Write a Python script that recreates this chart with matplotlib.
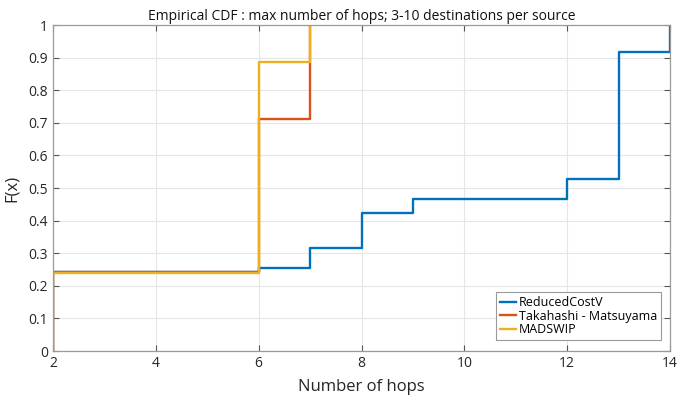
import matplotlib
matplotlib.use("Agg")
import matplotlib.pyplot as plt
import numpy as np

# Step points of each empirical CDF (hops, F(x))
reduced_x = [2, 6, 7, 8, 9, 12, 13, 14]
reduced_f = [0, 0.243, 0.254, 0.315, 0.425, 0.466, 0.528, 0.917, 1.0]

takahashi_x = [2, 6, 7]
takahashi_f = [0, 0.243, 0.712, 1.0]

madswip_x = [2, 6, 7]
madswip_f = [0, 0.239, 0.887, 1.0]

series_names = ["ReducedCostV", "Takahashi - Matsuyama", "MADSWIP"]
series_colors = ["#0072BD", "#D95319", "#EDB120"]

x_ticks = [2, 4, 6, 8, 10, 12, 14]
y_ticks = [0, 0.1, 0.2, 0.3, 0.4, 0.5, 0.6, 0.7, 0.8, 0.9, 1]
y_tick_labels = ["0", "0.1", "0.2", "0.3", "0.4", "0.5", "0.6", "0.7", "0.8", "0.9", "1"]

plt.rcParams["font.family"] = ["Open Sans", "DejaVu Sans"]


def stairs(xs, fs):
    """Build stair coordinates: vertical jump at each x, flat run to the next x."""
    sx, sy = [xs[0]], [fs[0]]
    for i, x in enumerate(xs):
        sx += [x, xs[i + 1] if i + 1 < len(xs) else x]
        sy += [fs[i + 1], fs[i + 1]]
    return sx, sy


fig = plt.figure(figsize=(6.92, 3.98), dpi=100)
ax = fig.add_axes([0.0766, 0.118, 0.8916, 0.819])

for xs, fs, name, color in zip([reduced_x, takahashi_x, madswip_x],
                               [reduced_f, takahashi_f, madswip_f],
                               series_names, series_colors):
    sx, sy = stairs(xs, fs)
    ax.plot(sx, sy, color=color, linewidth=1.7, label=name)

ax.set_xlim(2, 14)
ax.set_ylim(0, 1)
ax.set_xticks(x_ticks)
ax.set_yticks(y_ticks)
ax.set_yticklabels(y_tick_labels)
ax.grid(True, color="#e6e6e6", linewidth=0.8)
ax.set_axisbelow(True)
ax.tick_params(direction="in", length=4, labelsize=10, color="#555555",
               labelcolor="#262626", top=True, right=True)
for spine in ax.spines.values():
    spine.set_color("#9a9a9a")
    spine.set_linewidth(0.9)

ax.set_title("Empirical CDF : max number of hops; 3-10 destinations per source",
             fontsize=10, color="#111111", pad=4)
ax.set_xlabel("Number of hops", fontsize=12, color="#262626", labelpad=6)
ax.set_ylabel("F(x)", fontsize=12, color="#262626", labelpad=6)

leg = ax.legend(loc="lower right", fontsize=9, handlelength=1.3, handletextpad=0.2,
                borderpad=0.3, labelspacing=0.05, fancybox=False, framealpha=1,
                borderaxespad=0, bbox_to_anchor=(0.985, 0.034))
leg.get_frame().set_edgecolor("#9a9a9a")
leg.get_frame().set_linewidth(0.8)

fig.savefig("out.png", dpi=100)
